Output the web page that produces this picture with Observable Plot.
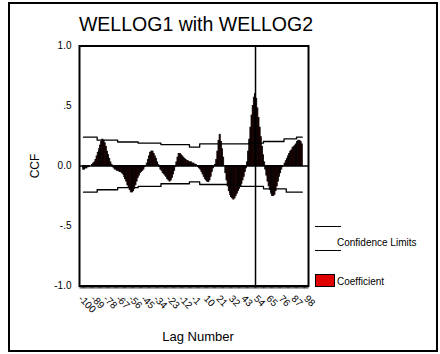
<!DOCTYPE html>
<html><head><meta charset="utf-8">
<script src="https://cdn.jsdelivr.net/npm/d3@7"></script>
<script src="https://cdn.jsdelivr.net/npm/@observablehq/plot@0.6"></script>
<style>
body{margin:0;background:#fff;font-family:"Liberation Sans",Arial,sans-serif}
#wrap{position:relative;width:440px;height:354px;overflow:hidden;background:#fff}
#chart{position:absolute;left:0;top:0}
#border{position:absolute;left:8px;top:2px;width:426px;height:346px;border:2px solid #000}
#title{position:absolute;left:78px;width:236px;top:15px;text-align:center;font-size:19.5px;line-height:19px;white-space:nowrap}
#xlab{position:absolute;left:148px;width:100px;top:330px;text-align:center;font-size:13px;line-height:13px;white-space:nowrap}
#ylab{position:absolute;left:35px;top:166px;font-size:12px;line-height:12px;white-space:nowrap;transform:translate(-50%,-50%) rotate(-90deg)}
.leg{position:absolute;font-size:10px;line-height:10px;white-space:nowrap}
.lline{position:absolute;height:0;border-top:1.3px solid #000;width:26px;left:315px}
.lbox{position:absolute;left:315px;top:274px;width:18px;height:11px;background:#e00000;border:1px solid #000}
</style></head><body>
<div id="wrap">
<div id="border"></div>
<div id="title">WELLOG1 with WELLOG2</div>
<div id="chart"></div>
<div id="xlab">Lag Number</div>
<div id="ylab">CCF</div>
<div class="lline" style="top:226px"></div>
<div class="lline" style="top:250px"></div>
<div class="leg" style="left:337px;top:238px">Confidence Limits</div>
<div class="lbox"></div>
<div class="leg" style="left:337px;top:277px">Coefficient</div>
</div>
<script>
// Cross-correlation coefficients, lags -97 .. 95
const firstLag = -97;
const ccf = [
-0.03,-0.03,-0.02,-0.02,-0.01,-0.01,0.00,0.00,0.01,0.02,
0.03,0.05,0.08,0.11,0.14,0.17,0.20,0.22,0.21,0.19,
0.16,0.12,0.09,0.06,0.03,0.01,-0.01,-0.02,-0.03,-0.03,
-0.04,-0.04,-0.05,-0.05,-0.06,-0.07,-0.09,-0.11,-0.13,-0.16,
-0.18,-0.20,-0.22,-0.22,-0.21,-0.19,-0.16,-0.13,-0.10,-0.08,
-0.06,-0.05,-0.04,-0.03,-0.01,0.00,0.02,0.05,0.08,0.11,
0.12,0.12,0.10,0.08,0.06,0.03,0.01,-0.01,-0.03,-0.04,
-0.06,-0.07,-0.08,-0.09,-0.11,-0.12,-0.13,-0.12,-0.10,-0.07,
-0.04,-0.01,0.03,0.07,0.10,0.10,0.09,0.08,0.07,0.06,
0.05,0.04,0.04,0.03,0.03,0.03,0.02,0.02,0.01,0.01,
0.00,-0.01,-0.02,-0.03,-0.05,-0.07,-0.09,-0.11,-0.12,-0.13,
-0.135,-0.12,-0.09,-0.05,-0.02,0.00,0.01,0.05,0.12,0.21,
0.26,0.20,0.14,0.07,0.00,-0.06,-0.12,-0.17,-0.21,-0.24,
-0.26,-0.27,-0.28,-0.27,-0.25,-0.23,-0.21,-0.19,-0.17,-0.15,
-0.12,-0.09,-0.05,-0.02,0.03,0.12,0.22,0.32,0.42,0.50,
0.57,0.60,0.56,0.48,0.40,0.32,0.24,0.16,0.09,0.03,
-0.03,-0.08,-0.13,-0.17,-0.20,-0.23,-0.25,-0.25,-0.24,-0.21,
-0.17,-0.13,-0.09,-0.06,-0.03,-0.01,0.00,0.02,0.04,0.06,
0.08,0.10,0.12,0.13,0.15,0.16,0.17,0.18,0.20,0.21,
0.21,0.20,0.18
];
// Confidence limits (step levels, starting lag of each level)
const upperLags = [-97,-85,-67,-49,-29,-4,5,48,61,79,90,95];
const upperVals = [0.24,0.215,0.20,0.19,0.178,0.158,0.185,0.19,0.204,0.226,0.24,0.24];
const lowerLags = [-97,-85,-67,-49,-29,-4,5,41,61,81,95];
const lowerVals = [-0.218,-0.198,-0.18,-0.17,-0.148,-0.133,-0.154,-0.17,-0.19,-0.218,-0.218];
const refLag = 54;
const xTicks = [-100,-89,-78,-67,-56,-45,-34,-23,-12,-1,10,21,32,43,54,65,76,87,98];
const xTickLabels = ["-100","-89","-78","-67","-56","-45","-34","-23","-12","-1","10","21","32","43","54","65","76","87","98"];
const yTicks = [-1,-0.5,0,0.5,1];
const yTickLabels = ["-1.0","-.5","0.0",".5","1.0"];

const bars = ccf.map((v,i)=>({lag:firstLag+i, v}));
const upper = upperLags.map((l,i)=>({lag:l, v:upperVals[i]}));
const lower = lowerLags.map((l,i)=>({lag:l, v:lowerVals[i]}));
const minorTicks = d3.range(-100,101);

const chart = Plot.plot({
  width:440, height:354,
  marginLeft:79, marginRight:132, marginTop:45.5, marginBottom:68.5,
  style:{fontFamily:"Liberation Sans, Arial, sans-serif", background:"transparent", overflow:"visible", color:"#000"},
  x:{domain:[-100.5,100.5]},
  y:{domain:[-1,1]},
  marks:[
    Plot.rectY(bars,{x1:d=>d.lag-0.5, x2:d=>d.lag+0.5, y:"v", fill:"#400000", stroke:"#000", strokeWidth:0.8}),
    Plot.lineY(upper,{x:"lag", y:"v", curve:"step-after", stroke:"#000", strokeWidth:1.3}),
    Plot.lineY(lower,{x:"lag", y:"v", curve:"step-after", stroke:"#000", strokeWidth:1.3}),
    Plot.ruleY([0],{stroke:"#000", strokeWidth:1.5}),
    Plot.ruleX([refLag],{stroke:"#000", strokeWidth:1.5}),
    Plot.axisX({ticks:minorTicks, tickSize:3, tickFormat:()=>"", label:null, stroke:"#000", strokeWidth:0.8}),
    Plot.axisX({ticks:xTicks, tickSize:0, tickPadding:11, tickRotate:45, fontSize:10,
      tickFormat:d=>xTickLabels[xTicks.indexOf(d)], label:null}),
    Plot.axisY({ticks:yTicks, tickSize:0, tickPadding:8, fontSize:10,
      tickFormat:d=>yTickLabels[yTicks.indexOf(d)], label:null}),
    Plot.frame({stroke:"#000", strokeWidth:2})
  ]
});
document.getElementById("chart").appendChild(chart);
</script>
</body></html>
